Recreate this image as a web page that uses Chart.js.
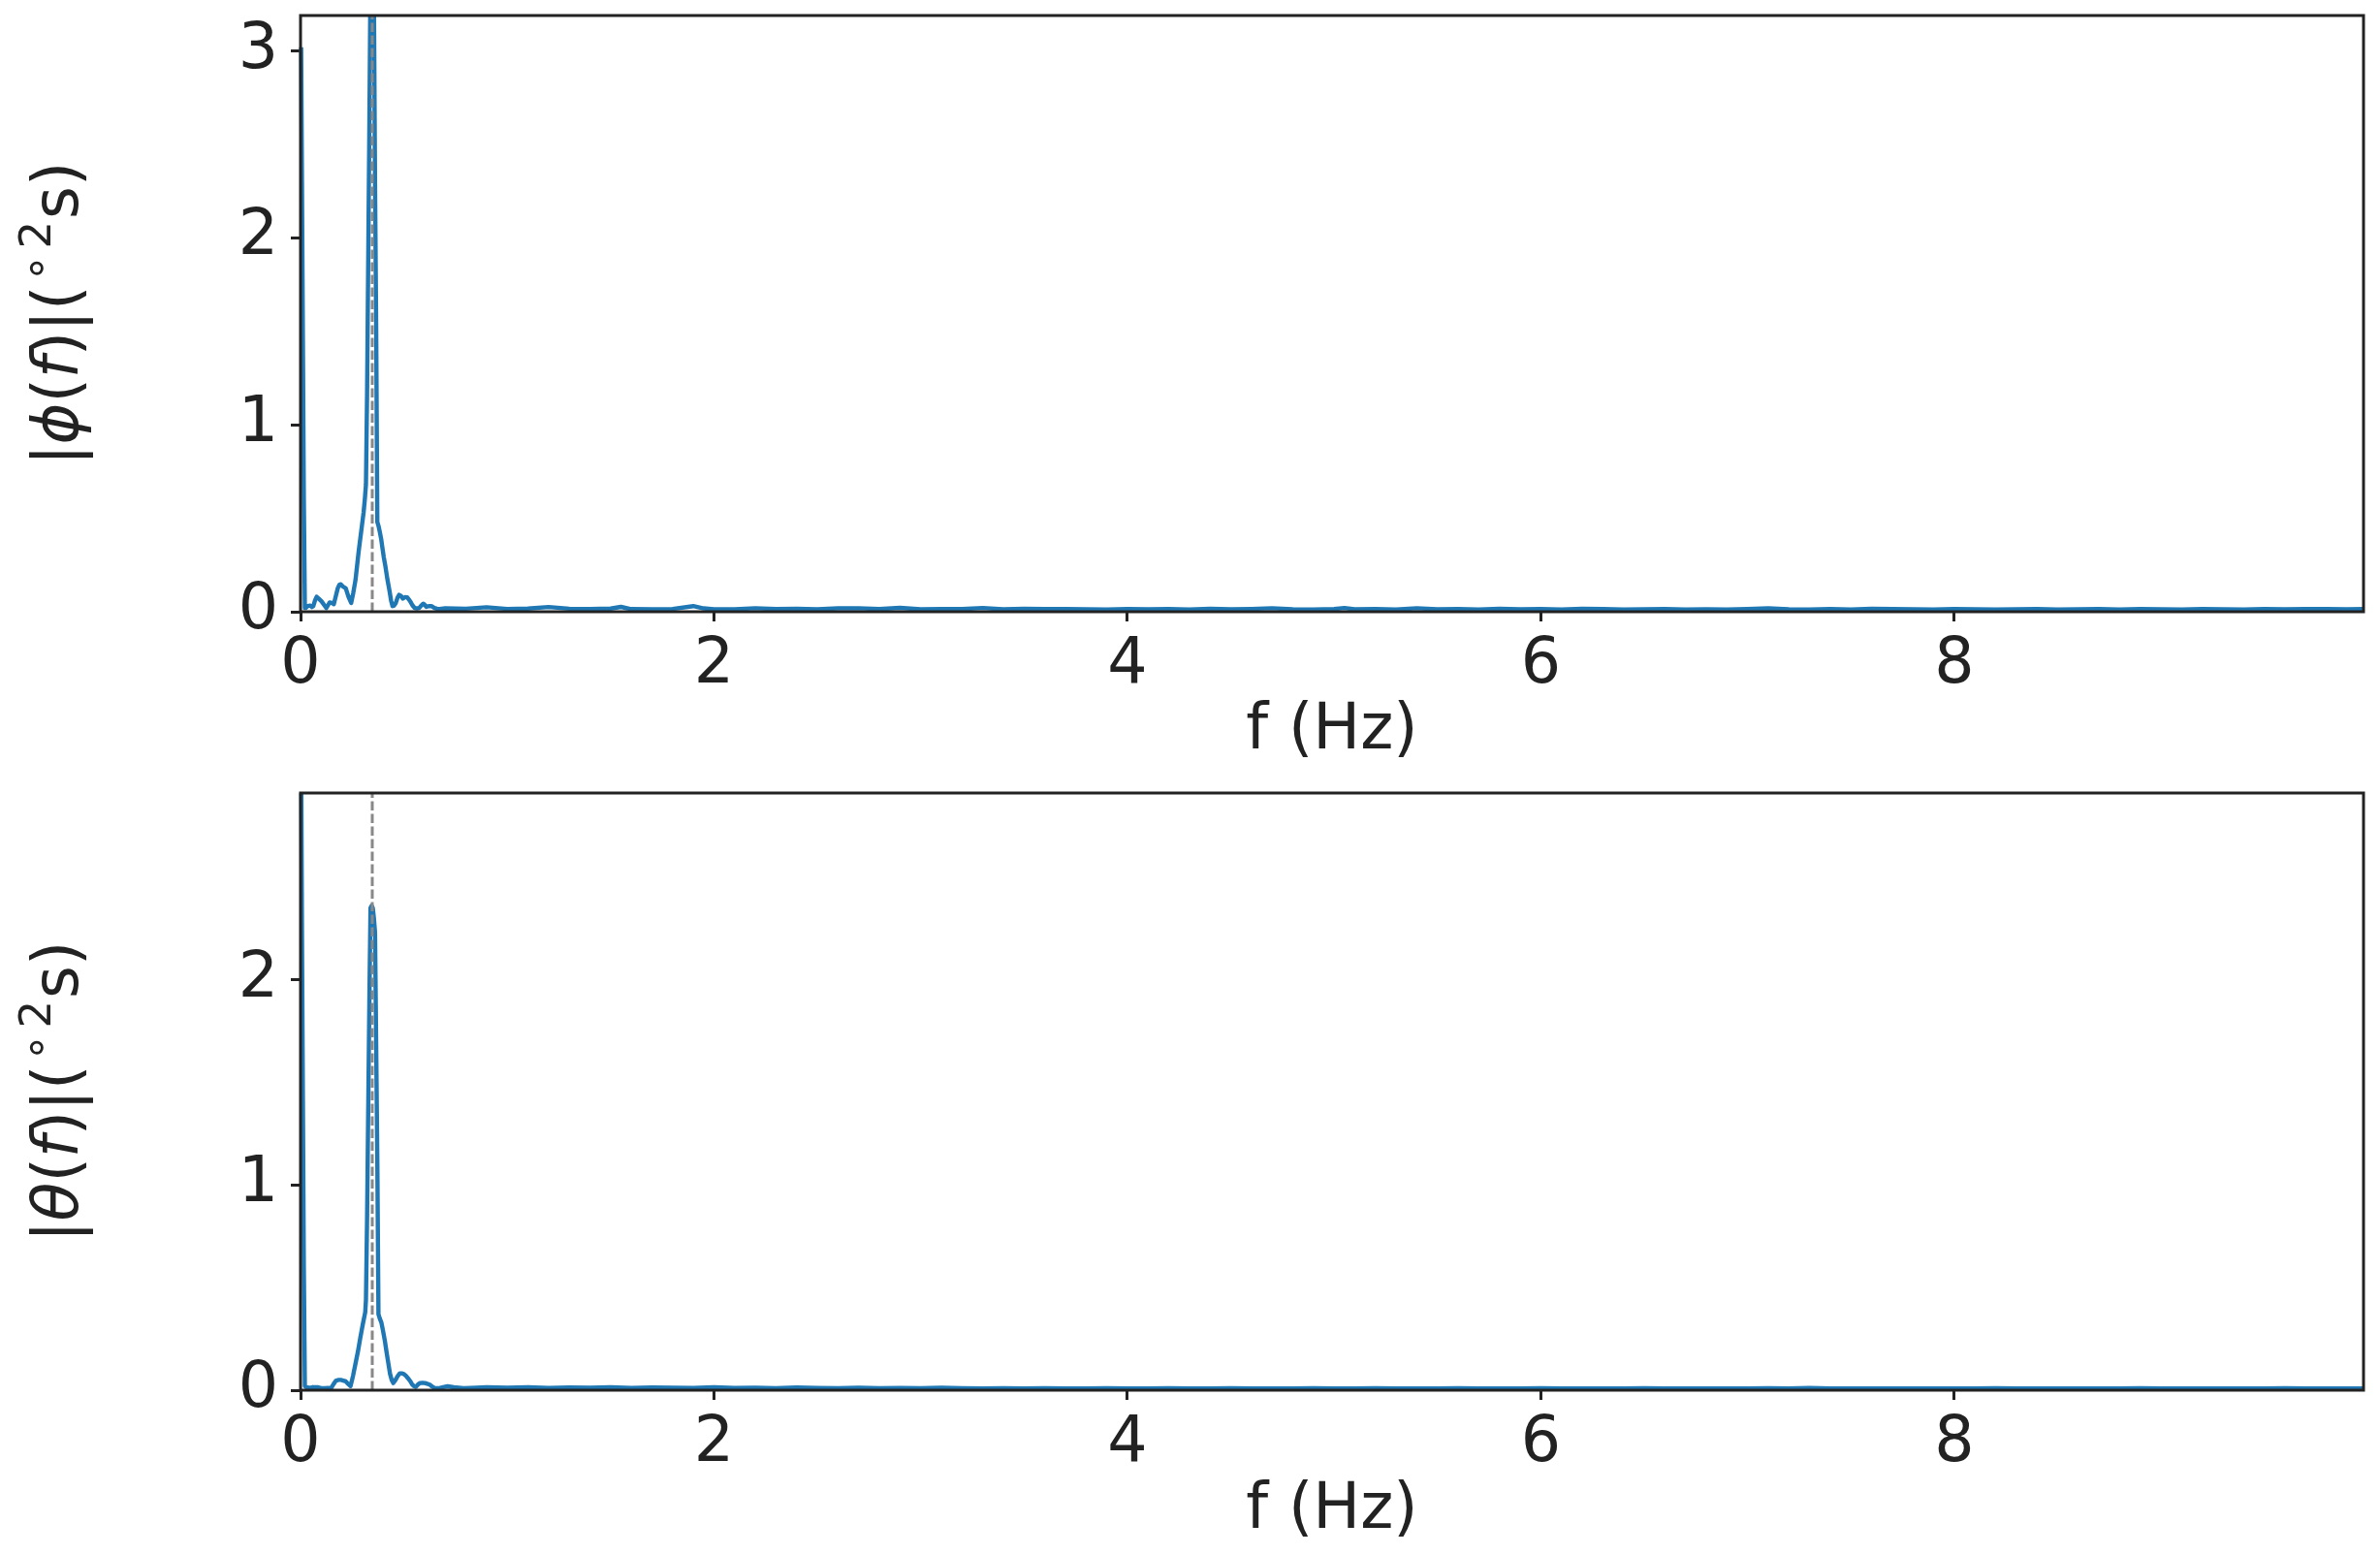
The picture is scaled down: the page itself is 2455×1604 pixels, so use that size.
<!DOCTYPE html>
<html><head><meta charset="utf-8">
<script src="https://cdn.jsdelivr.net/npm/chart.js@4.4.1/dist/chart.umd.min.js"></script>
<style>
html,body{margin:0;padding:0;background:#fff;}
#wrap{position:relative;width:2455px;height:1604px;background:#fff;}
canvas{position:absolute;left:0;}
#c1{top:0;}
#c2{top:800px;}
</style></head><body>
<div id="wrap">
<canvas id="c1" width="2455" height="800"></canvas>
<canvas id="c2" width="2455" height="804"></canvas>
</div>
<script>
// ---------------- data ----------------
const xTickValues = [0, 2, 4, 6, 8];
const phiTickValues = [0, 1, 2, 3];
const thetaTickValues = [0, 1, 2];
const xTitle = 'f (Hz)';
const peakFreq = 0.347;

const phiFreq = [0.003, 0.007, 0.0115, 0.016, 0.021, 0.025, 0.035, 0.047, 0.055, 0.062, 0.070, 0.078, 0.090, 0.102, 0.115, 0.125, 0.133, 0.141, 0.152, 0.161, 0.172, 0.180, 0.188, 0.195, 0.205, 0.219, 0.232, 0.245, 0.255, 0.266, 0.281, 0.289, 0.297, 0.305, 0.311, 0.3165, 0.322, 0.3275, 0.333, 0.3385, 0.344, 0.3495, 0.355, 0.3605, 0.366, 0.3715, 0.377, 0.383, 0.390, 0.395, 0.403, 0.411, 0.420, 0.430, 0.438, 0.445, 0.452, 0.461, 0.469, 0.477, 0.486, 0.495, 0.505, 0.516, 0.524, 0.531, 0.541, 0.552, 0.563, 0.574, 0.584, 0.594, 0.602, 0.609, 0.620, 0.633, 0.648, 0.660, 0.672,
  0.70, 0.80, 0.90, 1.0, 1.1, 1.2, 1.3, 1.4, 1.5, 1.55, 1.6, 1.7, 1.8, 1.9, 1.95, 2.0, 2.1, 2.2, 2.3, 2.4, 2.5, 2.6, 2.7, 2.8, 2.9, 3.0, 3.1, 3.2, 3.3, 3.4, 3.5, 3.6, 3.7, 3.8, 3.9, 4.0, 4.1, 4.2, 4.3, 4.4, 4.5, 4.6, 4.7, 4.8, 4.9, 5.0, 5.05, 5.1, 5.2, 5.3, 5.4, 5.5, 5.6, 5.7, 5.8, 5.9, 6.0, 6.1, 6.2, 6.3, 6.4, 6.5, 6.6, 6.7, 6.8, 6.9, 7.0, 7.1, 7.2, 7.3, 7.4, 7.5, 7.6, 7.7, 7.8, 7.9, 8.0, 8.1, 8.2, 8.3, 8.4, 8.5, 8.6, 8.7, 8.8, 8.9, 9.0, 9.1, 9.2, 9.3, 9.4, 9.5, 9.6, 9.7, 9.8, 9.9, 9.98];
const phiAmp = [3.02, 2.30, 1.46, 0.61, 0.02, 0.02, 0.03, 0.033, 0.025, 0.03, 0.06, 0.08, 0.068, 0.055, 0.035, 0.02, 0.035, 0.05, 0.047, 0.04, 0.09, 0.125, 0.145, 0.147, 0.135, 0.125, 0.08, 0.047, 0.10, 0.17, 0.32, 0.39, 0.46, 0.53, 0.60, 0.68, 1.17, 1.88, 2.59, 3.4, 3.7, 3.6, 3.3, 2.29, 1.52, 0.48, 0.46, 0.43, 0.39, 0.35, 0.29, 0.24, 0.175, 0.115, 0.06, 0.03, 0.032, 0.047, 0.075, 0.09, 0.085, 0.07, 0.078, 0.077, 0.066, 0.055, 0.035, 0.02, 0.018, 0.02, 0.033, 0.043, 0.035, 0.026, 0.03, 0.03, 0.02, 0.016, 0.015,
  0.018, 0.016, 0.024, 0.015, 0.017, 0.025, 0.016, 0.014, 0.017, 0.026, 0.014, 0.013, 0.015, 0.030, 0.018, 0.013, 0.013, 0.019, 0.014, 0.016, 0.013, 0.018, 0.019, 0.014, 0.021, 0.013, 0.015, 0.014, 0.020, 0.013, 0.016, 0.014, 0.015, 0.013, 0.012, 0.014, 0.013, 0.015, 0.012, 0.016, 0.013, 0.015, 0.019, 0.013, 0.012, 0.014, 0.020, 0.013, 0.015, 0.012, 0.019, 0.013, 0.014, 0.012, 0.016, 0.013, 0.015, 0.012, 0.016, 0.014, 0.012, 0.013, 0.015, 0.012, 0.013, 0.012, 0.014, 0.018, 0.013, 0.012, 0.015, 0.012, 0.016, 0.014, 0.013, 0.012, 0.015, 0.013, 0.012, 0.013, 0.015, 0.012, 0.013, 0.014, 0.012, 0.015, 0.013, 0.012, 0.014, 0.013, 0.012, 0.015, 0.013, 0.014, 0.015, 0.013, 0.014];

const thetaFreq = [0.003, 0.007, 0.0115, 0.016, 0.021, 0.025, 0.035, 0.047, 0.060, 0.070, 0.086, 0.100, 0.117, 0.133, 0.148, 0.160, 0.172, 0.185, 0.195, 0.207, 0.219, 0.231, 0.242, 0.254, 0.266, 0.278, 0.289, 0.301, 0.313, 0.3165, 0.322, 0.3275, 0.333, 0.3385, 0.344, 0.3495, 0.355, 0.3605, 0.366, 0.3715, 0.377, 0.383, 0.391, 0.399, 0.408, 0.417, 0.425, 0.433, 0.441, 0.449, 0.456, 0.464, 0.472, 0.480, 0.490, 0.500, 0.510, 0.520, 0.530, 0.539, 0.548, 0.558, 0.568, 0.578, 0.590, 0.602, 0.613, 0.625, 0.636, 0.648, 0.660, 0.672, 0.690, 0.711, 0.742, 0.789,
  0.85, 0.9, 1.0, 1.1, 1.2, 1.3, 1.4, 1.5, 1.6, 1.7, 1.8, 1.9, 2.0, 2.1, 2.2, 2.3, 2.4, 2.5, 2.6, 2.7, 2.8, 2.9, 3.0, 3.1, 3.2, 3.3, 3.4, 3.5, 3.6, 3.7, 3.8, 3.9, 4.0, 4.1, 4.2, 4.3, 4.4, 4.5, 4.6, 4.7, 4.8, 4.9, 5.0, 5.1, 5.2, 5.3, 5.4, 5.5, 5.6, 5.7, 5.8, 5.9, 6.0, 6.1, 6.2, 6.3, 6.4, 6.5, 6.6, 6.7, 6.8, 6.9, 7.0, 7.1, 7.2, 7.3, 7.4, 7.5, 7.6, 7.7, 7.8, 7.9, 8.0, 8.1, 8.2, 8.3, 8.4, 8.5, 8.6, 8.7, 8.8, 8.9, 9.0, 9.1, 9.2, 9.3, 9.4, 9.5, 9.6, 9.7, 9.8, 9.9, 9.98];
const thetaAmp = [3.1, 2.24, 1.42, 0.60, 0.02, 0.016, 0.013, 0.011, 0.015, 0.014, 0.014, 0.01, 0.01, 0.011, 0.01, 0.03, 0.047, 0.05, 0.05, 0.047, 0.043, 0.03, 0.02, 0.07, 0.13, 0.19, 0.255, 0.32, 0.38, 0.44, 0.84, 1.37, 1.89, 2.35, 2.36, 2.35, 2.30, 2.23, 1.68, 1.12, 0.37, 0.35, 0.33, 0.29, 0.24, 0.18, 0.13, 0.08, 0.05, 0.035, 0.045, 0.058, 0.072, 0.082, 0.082, 0.079, 0.07, 0.058, 0.045, 0.03, 0.02, 0.016, 0.028, 0.035, 0.036, 0.035, 0.031, 0.027, 0.018, 0.011, 0.01, 0.01, 0.015, 0.019, 0.014, 0.010,
  0.012, 0.014, 0.012, 0.015, 0.011, 0.013, 0.012, 0.014, 0.011, 0.013, 0.012, 0.011, 0.014, 0.011, 0.012, 0.010, 0.013, 0.011, 0.010, 0.012, 0.010, 0.011, 0.010, 0.012, 0.010, 0.009, 0.010, 0.009, 0.010, 0.009, 0.009, 0.010, 0.009, 0.009, 0.010, 0.009, 0.009, 0.010, 0.009, 0.009, 0.009, 0.010, 0.009, 0.009, 0.010, 0.009, 0.009, 0.009, 0.010, 0.009, 0.009, 0.009, 0.010, 0.009, 0.009, 0.009, 0.009, 0.010, 0.009, 0.009, 0.009, 0.009, 0.009, 0.010, 0.009, 0.011, 0.009, 0.009, 0.009, 0.009, 0.009, 0.009, 0.009, 0.009, 0.010, 0.009, 0.009, 0.009, 0.009, 0.009, 0.009, 0.010, 0.009, 0.009, 0.009, 0.009, 0.009, 0.009, 0.010, 0.009, 0.009, 0.009, 0.009];

// ---------------- drawing ----------------
const FONT = 'DejaVu Sans';
const TXT = '#222222';
const FS = 65;

const spinePlugin = {
  id: 'spines',
  afterDatasetsDraw(chart) {
    const {ctx, chartArea: a} = chart;
    ctx.save();
    ctx.strokeStyle = TXT;
    ctx.lineWidth = 3;
    ctx.strokeRect(a.left, a.top, a.right - a.left, a.bottom - a.top);
    ctx.restore();
  }
};

function yLabelPlugin(greek) {
  return {
    id: 'ylab',
    afterDraw(chart) {
      const {ctx, chartArea: a} = chart;
      const S = FS, s = 45;
      const parts = [
        {t: '|', it: false, sz: S, dy: 0, g: 0},
        {t: greek, it: true, sz: S, dy: 0, g: 0},
        {t: '(', it: false, sz: S, dy: 0, g: 0},
        {t: 'f', it: true, sz: S, dy: 0, g: 0},
        {t: ')', it: false, sz: S, dy: 0, g: 0},
        {t: '|', it: false, sz: S, dy: 0, g: 0},
        {t: '(', it: false, sz: S, dy: 0, g: 4},
        {t: '\u2218', it: false, sz: s, dy: -28, g: 6},
        {t: '2', it: false, sz: s, dy: -28, g: 2},
        {t: 's', it: false, sz: S, dy: 0, g: 0},
        {t: ')', it: false, sz: S, dy: 0, g: 0}
      ];
      let total = 0;
      parts.forEach(p => {
        ctx.font = (p.it ? 'italic ' : '') + p.sz + 'px "' + FONT + '"';
        p.w = ctx.measureText(p.t).width;
        total += p.w + p.g;
      });
      ctx.save();
      ctx.translate(80, (a.top + a.bottom) / 2);
      ctx.rotate(-Math.PI / 2);
      ctx.fillStyle = TXT;
      ctx.textBaseline = 'alphabetic';
      ctx.textAlign = 'left';
      let x = -total / 2;
      parts.forEach(p => {
        ctx.font = (p.it ? 'italic ' : '') + p.sz + 'px "' + FONT + '"';
        ctx.fillText(p.t, x, p.dy);
        x += p.w + p.g;
      });
      ctx.restore();
    }
  };
}

function makeChart(id, freq, amp, yMax, yTicks, greek, padTop, xAxisH) {
  const xMax = 9.98;
  return new Chart(document.getElementById(id), {
    type: 'line',
    data: {
      datasets: [
        {
          data: freq.map((f, i) => ({x: f, y: amp[i]})),
          borderColor: '#1f77b4', borderWidth: 4.4, pointRadius: 0, tension: 0,
          borderJoinStyle: 'round', borderCapStyle: 'butt', fill: false, order: 1,
          clip: {left: 4, top: 0, right: 0, bottom: 4}
        },
        {
          data: [{x: peakFreq, y: 0}, {x: peakFreq, y: yMax}],
          borderColor: '#888888', borderWidth: 3, borderDash: [9.5, 3.5], pointRadius: 0, fill: false, order: 0
        }
      ]
    },
    options: {
      responsive: false, animation: false, events: [],
      layout: {padding: {top: padTop, right: 17, left: 0, bottom: 0}},
      plugins: {legend: {display: false}, tooltip: {enabled: false}, title: {display: false}},
      scales: {
        x: {
          type: 'linear', min: 0, max: xMax,
          afterBuildTicks: sc => { sc.ticks = xTickValues.map(v => ({value: v})); },
          afterFit: sc => { sc.height = xAxisH; sc.paddingLeft = 0; sc.paddingRight = 0; },
          grid: {display: true, drawOnChartArea: false, drawTicks: true, tickLength: 10, tickWidth: 3, tickColor: TXT},
          border: {display: false},
          ticks: {font: {family: FONT, size: FS}, color: TXT, padding: 7, maxRotation: 0, autoSkip: false, callback: v => String(v)},
          title: {display: true, text: xTitle, font: {family: FONT, size: FS}, color: TXT, padding: {top: 0, bottom: 6}}
        },
        y: {
          type: 'linear', min: 0, max: yMax,
          afterBuildTicks: sc => { sc.ticks = yTicks.map(v => ({value: v})); },
          afterFit: sc => { sc.width = 310; sc.paddingTop = 0; sc.paddingBottom = 0; },
          grid: {display: true, drawOnChartArea: false, drawTicks: true, tickLength: 10, tickWidth: 3, tickColor: TXT},
          border: {display: false},
          ticks: {font: {family: FONT, size: FS}, color: TXT, padding: 13, autoSkip: false, callback: v => String(v)}
        }
      }
    },
    plugins: [spinePlugin, yLabelPlugin(greek)]
  });
}

makeChart('c1', phiFreq, phiAmp, 3.19, phiTickValues, '\u03D5', 16, 169);
makeChart('c2', thetaFreq, thetaAmp, 2.91, thetaTickValues, '\u03B8', 18, 170);
</script>
</body></html>
